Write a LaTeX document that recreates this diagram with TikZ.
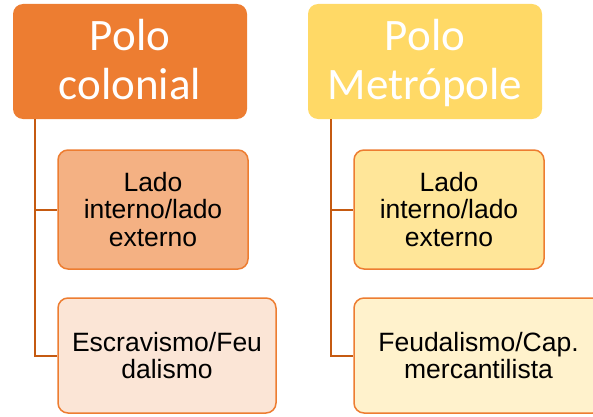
\documentclass[tikz,border=0pt]{standalone}
\usepackage{fontspec}
\setmainfont{Liberation Sans}
\newfontfamily\calib{Carlito}
\usetikzlibrary{calc}
\definecolor{orA}{HTML}{ED7D31}
\definecolor{orLine}{HTML}{C55A11}
\definecolor{orB}{HTML}{F4B183}
\definecolor{orC}{HTML}{FBE5D6}
\definecolor{yeA}{HTML}{FFD966}
\definecolor{yeB}{HTML}{FFE699}
\definecolor{yeC}{HTML}{FFF2CC}
\newcommand{\lowstrut}{\rule[-11pt]{0pt}{1pt}}
\tikzset{
  pole/.style={rounded corners=10pt, inner sep=0pt, align=center, text=white,
    font=\calib\fontsize{45}{49}\selectfont, minimum width=234pt, minimum height=115pt},
  child/.style={draw=orA, line width=1.5pt, rounded corners=10pt, inner sep=0pt, align=center,
    text=black, font=\fontsize{26.5}{27.5}\selectfont},
  conn/.style={draw=orLine, line width=2pt}
}
\begin{document}
\begin{tikzpicture}[x=1pt,y=1pt]
\useasboundingbox (0,0) rectangle (593,416);
\clip (0,0) rectangle (593,416);
\node[pole, fill=orA] (P1) at (130,354.5) {\vphantom{Ó}Polo\\\vphantom{Ó}colonial\lowstrut};
\node[pole, fill=yeA] (P2) at (425,354.5) {\vphantom{Ó}Polo\\\vphantom{Ó}Metrópole\lowstrut};
\node[child, fill=orB, minimum width=190pt, minimum height=119pt] (L1) at (153,206.5) {Lado\\interno/lado\\externo};
\node[child, fill=orC, minimum width=218pt, minimum height=115pt] (L2) at (167,60.5) {Escravismo/Feu\\dalismo};
\node[child, fill=yeB, minimum width=190pt, minimum height=119pt] (R1) at (449,206.5) {Lado\\interno/lado\\externo};
\node[child, fill=yeC, minimum width=249pt, minimum height=115pt] (R2) at (478.5,60.5) {Feudalismo/Cap.\\mercantilista};
\coordinate (a) at ($(P1.south west)+(22,0)$);
\coordinate (b) at ($(P2.south west)+(23,0)$);
\draw[conn] (a) |- (L1.west);
\draw[conn] (a) |- (L2.west);
\draw[conn] (b) |- (R1.west);
\draw[conn] (b) |- (R2.west);
\end{tikzpicture}
\end{document}
